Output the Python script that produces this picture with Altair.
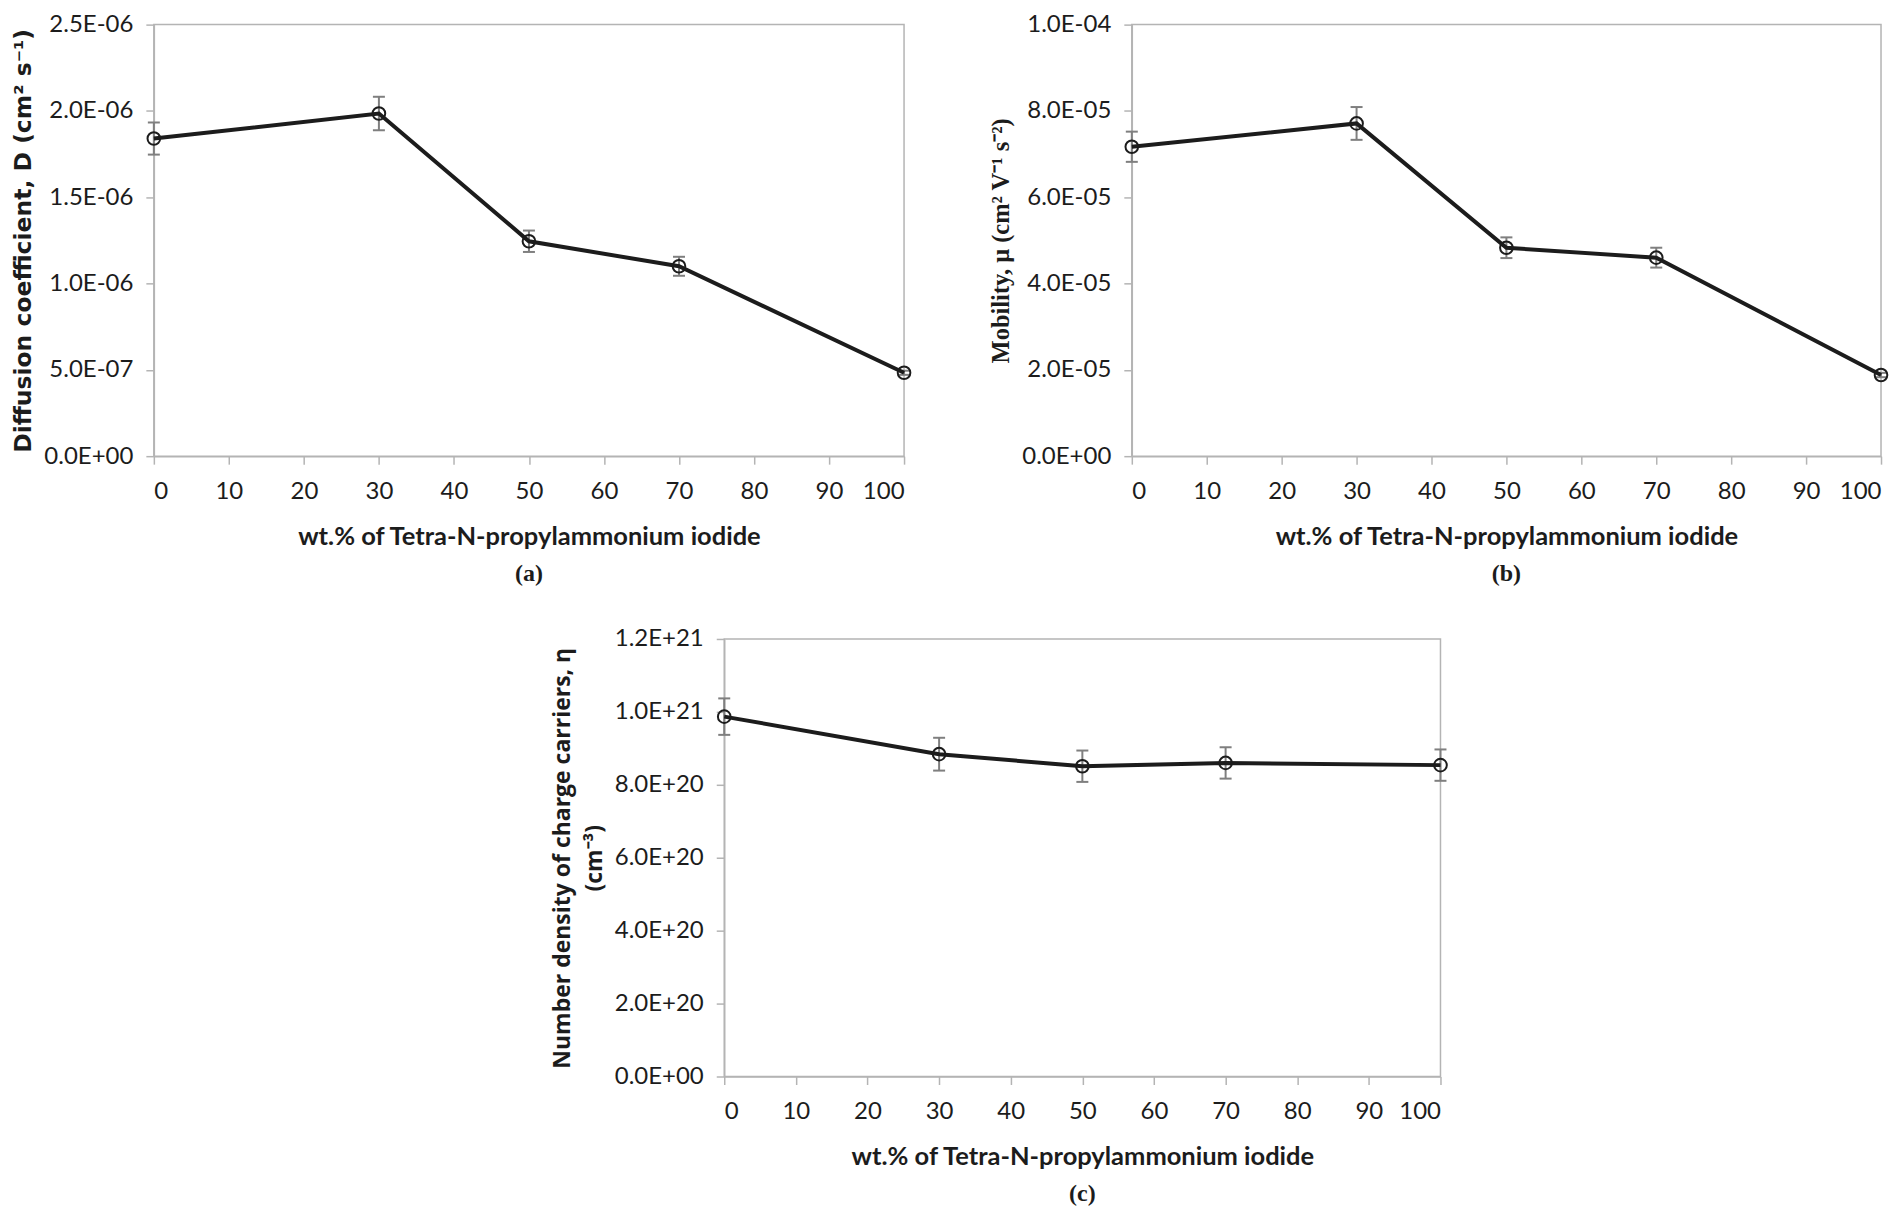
import altair as alt
import pandas as pd

# ---------------- data ----------------
wt = [0, 30, 50, 70, 100]

diff_coef = [1.84e-6, 1.985e-6, 1.245e-6, 1.10e-6, 4.83e-7]
diff_err = [0.093e-6, 0.097e-6, 0.062e-6, 0.055e-6, 0.012e-6]

mobility = [7.17e-5, 7.71e-5, 4.83e-5, 4.60e-5, 1.88e-5]
mobility_err = [0.35e-5, 0.38e-5, 0.24e-5, 0.23e-5, 0.05e-5]

density = [9.87e20, 8.84e20, 8.51e20, 8.60e20, 8.54e20]
density_err = [0.50e20, 0.45e20, 0.43e20, 0.43e20, 0.43e20]

x_ticks = [0, 10, 20, 30, 40, 50, 60, 70, 80, 90, 100]

ya_ticks = [0, 5e-7, 1e-6, 1.5e-6, 2e-6, 2.5e-6]
ya_labels = ["0.0E+00", "5.0E-07", "1.0E-06", "1.5E-06", "2.0E-06", "2.5E-06"]

yb_ticks = [0, 2e-5, 4e-5, 6e-5, 8e-5, 1e-4]
yb_labels = ["0.0E+00", "2.0E-05", "4.0E-05", "6.0E-05", "8.0E-05", "1.0E-04"]

yc_ticks = [0, 2e20, 4e20, 6e20, 8e20, 1e21, 1.2e21]
yc_labels = ["0.0E+00", "2.0E+20", "4.0E+20", "6.0E+20", "8.0E+20", "1.0E+21", "1.2E+21"]

x_title = "wt.% of Tetra-N-propylammonium iodide"

TICK_FONT = "Lato"
AXIS_GRAY = "#b4b4b4"
INK = "#1c1c1c"
ERR = "#7f7f7f"


def label_expr(ticks, labels):
    tol = (ticks[-1] - ticks[0]) * 1e-4
    expr = "''"
    for t, l in reversed(list(zip(ticks, labels))):
        expr = f"abs(datum.value - ({t!r})) < {tol!r} ? '{l}' : ({expr})"
    return expr


def panel(vals, errs, ticks, labels, ytitle, tag, width, height,
          tfont, tsize, tline=24):
    df = pd.DataFrame({
        "wt": wt,
        "v": vals,
        "lo": [v - e for v, e in zip(vals, errs)],
        "hi": [v + e for v, e in zip(vals, errs)],
    })
    xax = alt.Axis(values=x_ticks, title=x_title, grid=False,
                   tickSize=8, labelPadding=15, titlePadding=21,
                   titleFont="Lato", titleFontSize=25.5, titleFontWeight="bold",
                   titleColor=INK)
    yax = alt.Axis(values=ticks, labelExpr=label_expr(ticks, labels),
                   title=ytitle, grid=False, tickSize=8, labelPadding=13,
                   titleFont=tfont, titleFontSize=tsize, titleFontWeight="bold",
                   titleColor=INK, titleLineHeight=tline, titlePadding=8)

    def X():
        return alt.X("wt:Q", scale=alt.Scale(domain=[0, 100], nice=False), axis=xax)

    def Y(field):
        return alt.Y(f"{field}:Q",
                     scale=alt.Scale(domain=[ticks[0], ticks[-1]], nice=False, zero=True),
                     axis=yax)

    base = alt.Chart(df)
    rules = base.mark_rule(color=ERR, strokeWidth=2).encode(x=X(), y=Y("lo"), y2="hi:Q")
    cap_lo = base.mark_tick(orient="horizontal", color=ERR, size=12, thickness=2,
                            opacity=1).encode(x=X(), y=Y("lo"))
    cap_hi = base.mark_tick(orient="horizontal", color=ERR, size=12, thickness=2,
                            opacity=1).encode(x=X(), y=Y("hi"))
    line = base.mark_line(color=INK, strokeWidth=4).encode(x=X(), y=Y("v"))
    pts = base.mark_point(shape="circle", size=160, filled=False, color=INK,
                          strokeWidth=2, opacity=1).encode(x=X(), y=Y("v"))
    return alt.layer(rules, cap_lo, cap_hi, line, pts).properties(
        width=width, height=height,
        title=alt.TitleParams(tag, orient="bottom", frame="group", anchor="middle",
                              font="Liberation Serif", fontSize=24, fontWeight="bold",
                              color=INK, offset=12),
    )


pa = panel(diff_coef, diff_err, ya_ticks, ya_labels,
           "Diffusion coefficient, D (cm\u00b2 s\u207b\u00b9)", "(a)", 751, 432,
           "DejaVu Sans", 23.5)
pb = panel(mobility, mobility_err, yb_ticks, yb_labels,
           "Mobility, \u03bc (cm\u00b2 V\u207b\u00b9 s\u207b\u00b2)", "(b)", 750, 432,
           "Liberation Serif", 24.5)
pc = panel(density, density_err, yc_ticks, yc_labels,
           ["Number density of charge carriers, \u03b7", "(cm\u207b\u00b3)"], "(c)", 717, 438,
           "Open Sans", 23, tline=32)

spacer = alt.Chart(pd.DataFrame({"s": [0]})).mark_point(opacity=0).encode(
    x=alt.X("s:Q", axis=None), y=alt.Y("s:Q", axis=None)
).properties(width=396, height=10, view=alt.ViewBackground(stroke="transparent"))

top = alt.hconcat(pa, pb, spacing=72)
bottom = alt.hconcat(spacer, pc, spacing=0)

chart = alt.vconcat(top, bottom, spacing=39).properties(
    padding={"top": 3, "left": 3, "right": 0, "bottom": 0}
).configure_view(
    stroke=AXIS_GRAY, strokeWidth=1.5
).configure_axis(
    domainColor=AXIS_GRAY, domainWidth=1.5, tickColor=AXIS_GRAY, tickWidth=1.5,
    labelFont=TICK_FONT, labelFontSize=24, labelColor=INK,
)

chart.save("out.html", embed_options={"renderer": "svg", "actions": False})
